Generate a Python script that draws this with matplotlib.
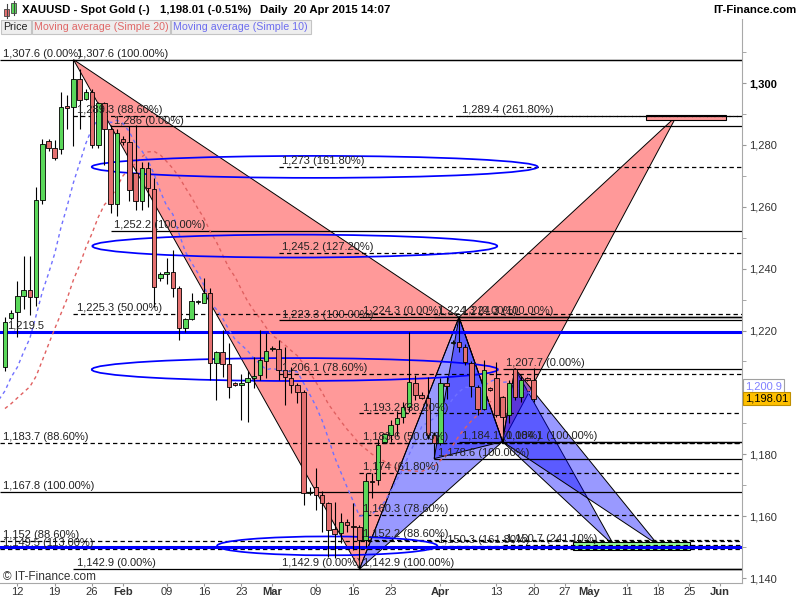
import numpy as np
import pandas as pd
import matplotlib
matplotlib.use("Agg")
import matplotlib.pyplot as plt
from matplotlib.patches import Polygon, Ellipse, Rectangle

plt.rcParams['font.family'] = ['Liberation Sans', 'DejaVu Sans']

# ---- XAUUSD daily bars, 9 Jan -> 20 Apr 2015 (short Sunday sessions included)
opens = [1208.3, 1224.0, 1226.0, 1231.3, 1233.1, 1231.0, 1262.2, 1281.3, 1278.9, 1278.7,
         1292.5, 1292.1, 1301.2, 1295.0, 1297.0, 1280.0, 1293.4, 1285.0, 1261.0, 1282.0,
         1281.0, 1271.0, 1262.0, 1272.4, 1265.7, 1236.9, 1238.2, 1238.8, 1233.6, 1220.7,
         1223.6, 1229.1, 1229.0, 1232.0, 1209.4, 1213.2, 1209.1, 1203.0, 1202.4, 1203.5,
         1204.8, 1205.6, 1210.3, 1214.0, 1213.9, 1207.2, 1204.5, 1202.4, 1200.2, 1167.6,
         1169.5, 1166.8, 1164.1, 1155.8, 1154.4, 1158.2, 1156.9, 1156.4, 1152.3, 1171.5,
         1171.8, 1184.1, 1186.2, 1189.7, 1192.0, 1195.4, 1203.0, 1199.2, 1198.1, 1186.2,
         1183.5, 1203.2, 1215.9, 1216.4, 1214.8, 1209.4, 1201.6, 1194.8, 1201.3, 1204.5,
         1198.6, 1192.7, 1207.5, 1198.6, 1204.5, 1204.0]
highs = [1224.5, 1226.5, 1236.0, 1244.0, 1244.0, 1266.5, 1282.0, 1282.0, 1281.6, 1297.0,
         1296.0, 1307.6, 1304.7, 1298.0, 1298.0, 1294.0, 1294.0, 1286.5, 1285.0, 1283.0,
         1286.0, 1286.4, 1274.6, 1274.6, 1269.2, 1239.0, 1243.3, 1246.0, 1234.5, 1224.0,
         1232.0, 1229.8, 1236.9, 1233.6, 1213.5, 1220.2, 1215.9, 1203.5, 1206.0, 1207.0,
         1211.6, 1220.2, 1219.1, 1215.0, 1216.9, 1214.8, 1208.3, 1203.0, 1200.8, 1169.5,
         1175.5, 1168.0, 1164.7, 1164.7, 1160.9, 1159.0, 1164.4, 1157.0, 1173.8, 1174.0,
         1185.0, 1187.0, 1191.0, 1194.0, 1197.0, 1219.6, 1205.6, 1200.0, 1205.0, 1187.3,
         1204.5, 1205.0, 1216.8, 1224.3, 1215.5, 1210.0, 1202.5, 1210.5, 1201.8, 1209.9,
         1199.0, 1204.0, 1207.7, 1205.5, 1205.0, 1207.8]
lows = [1207.0, 1223.5, 1218.0, 1227.0, 1225.0, 1228.0, 1261.0, 1278.0, 1275.0, 1277.0,
        1285.0, 1279.5, 1285.0, 1294.5, 1278.9, 1279.0, 1273.5, 1258.0, 1257.0, 1280.0,
        1262.0, 1259.0, 1259.0, 1260.0, 1227.7, 1236.0, 1235.2, 1231.0, 1216.9, 1219.6,
        1223.4, 1228.6, 1229.0, 1204.0, 1197.5, 1205.1, 1198.1, 1202.0, 1191.1, 1190.5,
        1201.3, 1204.0, 1204.5, 1213.5, 1204.0, 1196.0, 1199.7, 1196.5, 1163.6, 1166.8,
        1162.0, 1155.0, 1146.9, 1146.4, 1151.2, 1155.0, 1149.0, 1142.9, 1150.0, 1166.0,
        1170.0, 1183.5, 1184.0, 1186.0, 1190.0, 1193.8, 1197.5, 1198.0, 1185.0, 1178.6,
        1183.0, 1198.0, 1215.5, 1213.0, 1209.0, 1198.6, 1192.7, 1194.3, 1200.5, 1192.1,
        1184.1, 1190.0, 1197.5, 1197.0, 1203.8, 1197.0]
closes = [1222.9, 1225.6, 1231.3, 1233.1, 1231.0, 1262.2, 1280.2, 1278.9, 1275.7, 1292.1,
          1292.0, 1301.2, 1294.5, 1297.0, 1280.0, 1293.4, 1285.0, 1261.0, 1283.7, 1281.0,
          1265.5, 1262.0, 1272.4, 1266.0, 1234.2, 1238.2, 1238.8, 1233.6, 1220.7, 1223.6,
          1229.6, 1229.3, 1232.0, 1209.4, 1213.2, 1209.2, 1201.8, 1202.4, 1203.2, 1204.8,
          1205.4, 1210.5, 1213.4, 1214.2, 1207.2, 1205.1, 1202.4, 1200.2, 1167.6, 1167.8,
          1166.8, 1164.1, 1155.5, 1154.2, 1158.2, 1157.1, 1156.4, 1152.3, 1171.5, 1171.0,
          1183.0, 1186.6, 1189.5, 1191.6, 1195.4, 1203.3, 1199.2, 1198.1, 1186.2, 1183.5,
          1203.2, 1202.1, 1216.4, 1214.8, 1209.9, 1202.1, 1194.8, 1207.2, 1200.8, 1192.7,
          1192.1, 1203.0, 1198.6, 1204.0, 1204.0, 1198.0]
# closes before the visible window (16 Dec 2014 - 8 Jan 2015), only feed the averages
prior_closes = [1194.0, 1194.0, 1197.0, 1195.0, 1195.0, 1178.0, 1175.0, 1174.0, 1195.0, 1194.0,
                1181.0, 1199.0, 1184.0, 1187.0, 1189.0, 1204.0, 1219.0, 1211.0, 1208.0]

last_price = 1198.01
last_ma10 = 1200.9

# x axis: bar number (future bars are weekdays only)
x_tick_pos = [2, 8, 14, 19, 26, 32, 38, 43, 50, 56, 62, 70, 79, 85, 90, 94, 100, 105, 110, 115]
x_tick_lab = ['12', '19', '26', 'Feb', '09', '16', '23', 'Mar', '09', '16', '23', 'Apr',
              '13', '20', '27', 'May', '11', '18', '25', 'Jun']
y_ticks = [1140, 1160, 1180, 1200, 1220, 1240, 1260, 1280, 1300]

# ---- fibonacci tools: start bar, level prices, level percentages
fib_start = [-0.8, -0.8, 11, 17, 44, 57, 69, 73, 80]
fib_price = [[1307.6, 1183.7, 1167.8],
             [1152.0, 1149.5],
             [1307.6, 1289.3, 1225.3, 1142.9],
             [1286.0, 1252.2],
             [1273.0, 1245.2, 1223.3, 1206.1, 1142.9],
             [1224.3, 1193.2, 1183.6, 1174.0, 1160.3, 1152.2, 1142.9],
             [1224.3, 1178.6, 1150.3],
             [1224.3, 1184.1, 1289.4],
             [1184.1, 1207.7, 1150.7]]
fib_pct = [[0, 88.6, 100],
           [88.6, 113.0],
           [100, 88.6, 50, 0],
           [0, 100],
           [161.8, 127.2, 100, 78.6, 0],
           [0, 38.2, 50, 61.8, 78.6, 88.6, 100],
           [0, 100, 161.8],
           [100, 0, 261.8],
           [100, 0, 241.1]]

# ---- harmonic patterns X, A, B, C, D (bar, price)
red_bar = [11, 57, 73, 80, 108]
red_px = [1307.6, 1142.9, 1224.3, 1184.1, 1289.4]
blue1_bar = [57, 73, 80, 82, 98]
blue1_px = [1142.9, 1224.3, 1184.1, 1207.7, 1150.3]
blue2_bar = [69, 73, 80, 82, 105]
blue2_px = [1178.6, 1224.3, 1184.1, 1207.7, 1150.7]

# PRZ boxes (bar from, bar to, price low, price high)
prz_red = [103, 116, 1288.2, 1289.8]
prz_green = [91.3, 110.2, 1149.2, 1151.8]

# support/resistance lines and ellipses
blue_levels = [1219.5, 1150.0]
ell_bar = [49.8, 46.6, 46.6, 51.8]
ell_price = [1272.9, 1247.3, 1207.4, 1150.4]
ell_w = [71.7, 65.1, 65.3, 35.4]
ell_h = [7.1, 7.4, 7.4, 6.1]

W, H = 800, 600
def fx(x): return x / W
def fy(y): return 1 - y / H

fig = plt.figure(figsize=(8, 6), dpi=100)
ax = fig.add_axes([0, fy(583), fx(742), (583 - 19) / H])
x_lo, x_hi = -0.8, 118.5
ax.set_xlim(x_lo, x_hi)
ax.set_ylim(1138.4, 1320.7)

# patterns
def pattern(bars, prices, rgba):
    pts = list(zip(bars, prices))
    for tri in (pts[0:3], pts[2:5]):
        ax.add_patch(Polygon(tri, closed=True, fc=rgba, ec='black', lw=0.7, zorder=1.5))

pattern(red_bar, red_px, (1, 0, 0, 0.4))
pattern(blue1_bar, blue1_px, (0, 0, 1, 0.4))
pattern(blue2_bar, blue2_px, (0, 0, 1, 0.4))

# fib levels
def fmt(p):
    s = f"{p:,.1f}"
    return s[:-2] if s.endswith('.0') else s

for x0, prices, pcts in zip(fib_start, fib_price, fib_pct):
    for p, pc in zip(prices, pcts):
        ls = '-' if pc in (0, 100) else (0, (3.5, 2.5))
        ax.hlines(p, x0, x_hi, colors='black', linestyles=[ls], lw=0.9, zorder=2.2)
        ax.annotate(f"{fmt(p)} ({pc:.2f}%)", xy=(x0 + 0.55, p), xytext=(0, 0.6),
                    textcoords='offset points', fontsize=8, color='#222222',
                    ha='left', va='bottom', zorder=6, annotation_clip=False)

for p in blue_levels:
    ax.axhline(p, color='#0000FF', lw=2.2, zorder=2.4)
ax.annotate(fmt(blue_levels[0]), xy=(0.3, blue_levels[0]), xytext=(0, 1),
            textcoords='offset points', fontsize=8, color='#222222', va='bottom', zorder=6)

for cx, cy, w, h in zip(ell_bar, ell_price, ell_w, ell_h):
    ax.add_patch(Ellipse((cx, cy), w, h, fill=False, ec='#0000FF', lw=1.25, zorder=2.6))

ax.add_patch(Rectangle((prz_red[0], prz_red[2]), prz_red[1] - prz_red[0],
                       prz_red[3] - prz_red[2], fc='#FF9999', ec='black', lw=0.8, zorder=2.1))
ax.add_patch(Rectangle((prz_green[0], prz_green[2]), prz_green[1] - prz_green[0],
                       prz_green[3] - prz_green[2], fc='#99FF99', ec='black', lw=0.8, zorder=2.1))

# moving averages
all_close = pd.Series(prior_closes + closes)
xs = np.arange(-len(prior_closes), len(closes))
ma20 = all_close.rolling(20).mean().values
ma10 = all_close.rolling(10).mean().values
keep = xs >= -1
ax.plot(xs[keep], ma20[keep], color='#E06060', ls=(0, (2.5, 2.5)), lw=1.0, zorder=2.5)
ax.plot(xs[keep], ma10[keep], color='#7070FF', ls=(0, (2.5, 2.5)), lw=1.0, zorder=2.5)

# candles
o = np.array(opens); c = np.array(closes); hi = np.array(highs); lo = np.array(lows)
bx = np.arange(len(o))
up = c >= o
ax.vlines(bx, lo, hi, color='black', lw=0.8, zorder=3.5)
body = np.maximum(np.abs(c - o), 0.3)
ax.bar(bx, body, bottom=np.minimum(o, c), width=0.72,
       color=np.where(up, '#5AD85A', '#E57070'), edgecolor='black', lw=0.6, zorder=4)

# axes styling
for s in ('top', 'left'):
    ax.spines[s].set_visible(False)
for s in ('right', 'bottom'):
    ax.spines[s].set_color('#A8A8A8')
ax.yaxis.tick_right()
ax.set_yticks(y_ticks, labels=[f"{v:,}" for v in y_ticks])
ax.set_yticks(np.arange(1150, 1320, 20), minor=True)
ax.tick_params(axis='y', which='both', length=3, color='#999999', labelsize=8,
               labelcolor='#333333', pad=2)
for t in ax.get_yticklabels():
    if t.get_text() == '1,300':
        t.set_fontweight('bold')
        t.set_color('black')
ax.set_xticks(x_tick_pos, labels=x_tick_lab)
ax.tick_params(axis='x', length=2.5, color='#999999', labelsize=8, labelcolor='#333333', pad=0.5)
for t in ax.get_xticklabels():
    if t.get_text() in ('Feb', 'Mar', 'Apr', 'May', 'Jun'):
        t.set_fontweight('bold')

# price tags on the right
ax.annotate(fmt(last_ma10), xy=(1.004, last_ma10), xycoords=('axes fraction', 'data'),
            xytext=(0, 2.5), textcoords='offset points', fontsize=8, color='#8080FF',
            va='center', ha='left', annotation_clip=False,
            bbox=dict(boxstyle='square,pad=0.15', fc='white', ec='#A0A0A0', lw=0.8))
ax.annotate(f"{last_price:,.2f}", xy=(1.004, last_price), xycoords=('axes fraction', 'data'),
            fontsize=8, color='black', va='center', ha='left', annotation_clip=False,
            bbox=dict(boxstyle='square,pad=0.15', fc='#FFC000', ec='#C09000', lw=0.8))

# header
fig.add_artist(Rectangle((fx(0), fy(19)), 1, 19 / H, transform=fig.transFigure,
                         fc='white', ec='none', zorder=0.5))
fig.add_artist(plt.Line2D([fx(6.5), fx(6.5)], [fy(4), fy(18)], color='#444', lw=0.8))
fig.add_artist(Rectangle((fx(4), fy(16)), fx(5), 7 / H, transform=fig.transFigure,
                         fc='#E57070', ec='#444', lw=0.6))
fig.add_artist(plt.Line2D([fx(13.5), fx(13.5)], [fy(1), fy(15)], color='#444', lw=0.8))
fig.add_artist(Rectangle((fx(11), fy(13)), fx(5), 10 / H, transform=fig.transFigure,
                         fc='#5AD85A', ec='#444', lw=0.6))
fig.text(fx(22), fy(10), 'XAUUSD - Spot Gold (-)', fontsize=8.2, weight='bold', va='center')
fig.text(fx(160), fy(10), '1,198.01 (-0.51%)', fontsize=8.2, weight='bold', va='center')
fig.text(fx(260), fy(10), 'Daily  20 Apr 2015 14:07', fontsize=8.2, weight='bold', va='center')
fig.text(fx(797), fy(10), 'IT-Finance.com', fontsize=8.2, weight='bold', va='center', ha='right')

leg = [('Price', 1, 31, '#222222'), ('Moving average (Simple 20)', 32, 170, '#E06868'),
       ('Moving average (Simple 10)', 171, 311, '#6E6EEE')]
for txt, x0, x1, col in leg:
    fig.add_artist(Rectangle((fx(x0), fy(34)), fx(x1 - x0), 14 / H, transform=fig.transFigure,
                             fc='#EEEEEE', ec='#C4C4C4', lw=0.8, zorder=2))
    fig.text(fx(x0 + 2), fy(27), txt, fontsize=7.7, color=col, va='center', zorder=3)

fig.text(fx(3), fy(577), '\u00a9 IT-Finance.com', fontsize=8.5, color='#333333', va='center')

fig.savefig('out.png', dpi=100)
